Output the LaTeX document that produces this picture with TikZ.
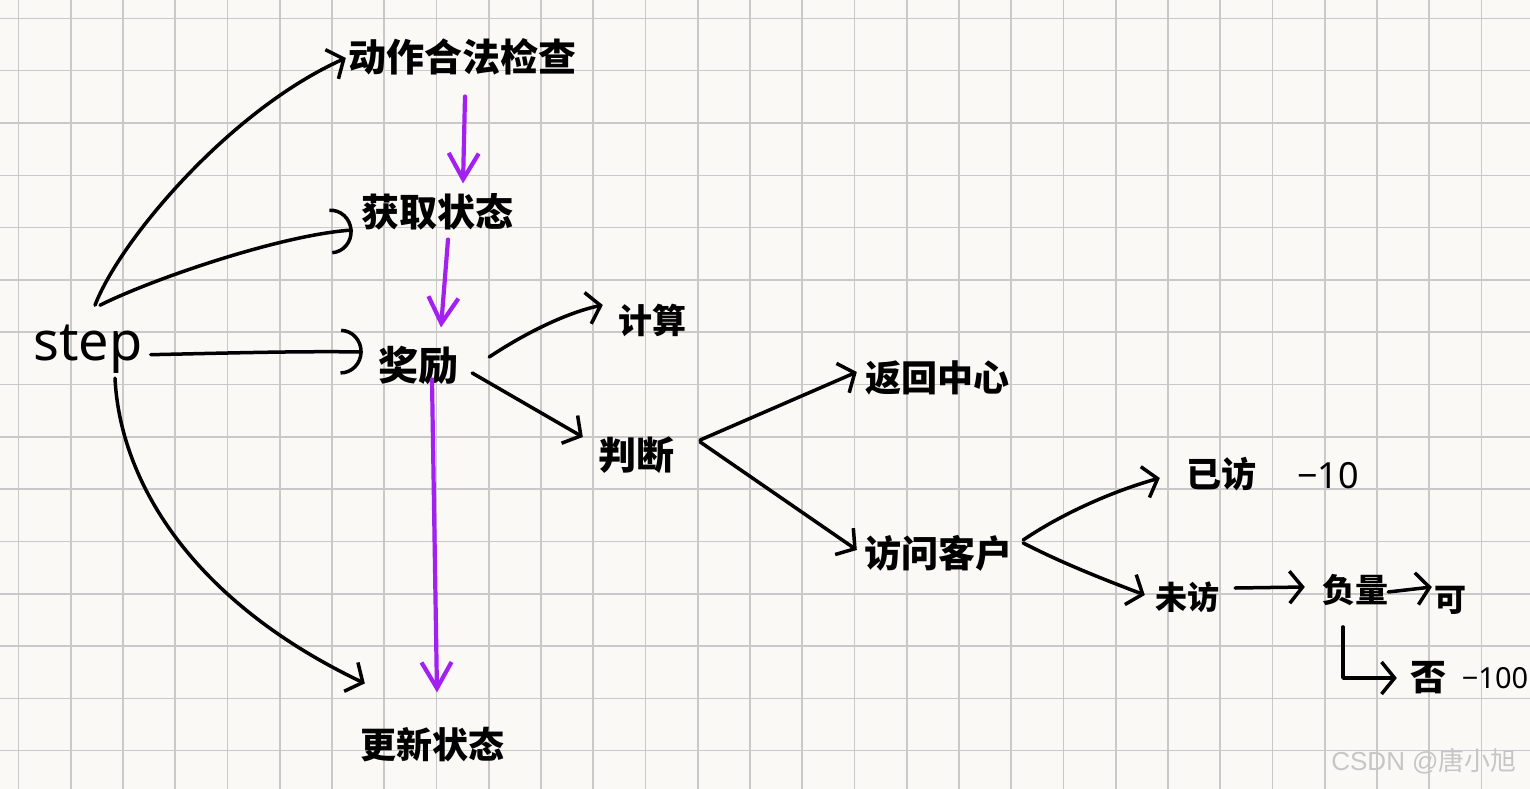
\documentclass[tikz,border=0pt]{standalone}
\usepackage{fontspec}
\setmainfont{Noto Sans}
\newfontfamily\cjk{Noto Sans CJK SC}
\newfontfamily\lat{Liberation Sans}
\usetikzlibrary{arrows.meta}
\definecolor{bgc}{HTML}{FBF9F5}
\definecolor{gridc}{HTML}{C9C9C9}
\definecolor{purp}{RGB}{162,32,240}
\definecolor{wmc}{HTML}{C6C6C6}
\tikzset{
  lbl/.style={inner sep=0pt, font=\cjk\bfseries\fontsize{#1}{#1}\selectfont},
  num/.style={inner sep=0pt, font=\fontsize{#1}{#1}\selectfont},
  hand/.style={draw=black, line width=3.5pt, line cap=round, line join=round,
    -{Straight Barb[length=13pt,width=32pt]}},
  handarc/.style={draw=black, line width=3.5pt, line cap=round, line join=round,
    -{Arc Barb[length=22pt,width=46pt]}},
  purparrow/.style={draw=purp, line width=4.2pt, line cap=round, line join=round,
    -{Straight Barb[length=26pt,width=30pt]}},
}
\begin{document}
\begin{tikzpicture}[x=1pt,y=-1pt]
\useasboundingbox (0,0) rectangle (1530,789);
\fill[bgc] (0,0) rectangle (1530,789);
\foreach \i in {0,...,29} \draw[gridc, line width=1.6pt] (18.5+52.25*\i,0) -- (18.5+52.25*\i,789);
\foreach \j in {0,...,14} \draw[gridc, line width=1.6pt] (0,18.4+52.3*\j) -- (1530,18.4+52.3*\j);

% nodes
\node[num=54, anchor=base] (step) at (88,360) {step};
\node[lbl=38] (dz) at (462,57) {动作合法检查};
\node[lbl=38] (hq) at (437,212) {获取状态};
\node[lbl=40] (jl) at (418,365) {奖励};
\node[lbl=34] (js) at (652,320) {计算};
\node[lbl=38] (pd) at (636,455) {判断};
\node[lbl=36] (fh) at (937,378) {返回中心};
\node[lbl=37] (fw) at (938,553) {访问客户};
\node[lbl=35] (yf) at (1221,474) {已访};
\node[num=36] (m10) at (1328,476) {−10};
\node[lbl=32] (wf) at (1187,597) {未访};
\node[lbl=33] (fl) at (1355,590) {负量};
\node[lbl=32] (ke) at (1450,600) {可};
\node[lbl=36] (fou) at (1428,678) {否};
\node[num=29] (m100) at (1495,678) {−100};
\node[lbl=36] (gx) at (432,745) {更新状态};
\node[inner sep=0pt, text=wmc, font=\fontsize{26}{26}\selectfont] (wm) at (1424,761) {\lat CSDN @\cjk 唐小旭};

% black connectors
\draw[hand] ([xshift=7pt,yshift=19pt]step.north) .. controls (120,240) and (230,110) .. ([xshift=-2pt,yshift=-1pt]dz.west);
\draw[handarc] ([xshift=12pt,yshift=19pt]step.north) .. controls (150,280) and (280,235) .. ([xshift=-8pt,yshift=-18pt]hq.west);
\draw[handarc] ([xshift=8pt,yshift=-6pt]step.east) .. controls (230,353) and (300,351) .. ([xshift=-15pt,yshift=13pt]jl.west);
\draw[hand] ([xshift=27pt,yshift=-5pt]step.south) .. controls (120,480) and (190,600) .. ([xshift=5pt,yshift=44pt]gx.north west);
\draw[hand] ([xshift=31pt,yshift=8pt]jl.east) .. controls (530,330) and (570,312) .. ([xshift=-15pt,yshift=15pt]js.west);
\draw[hand] ([xshift=14pt,yshift=-8pt]jl.east) -- ([xshift=-15pt,yshift=18pt]pd.west);
\draw[hand] ([xshift=26pt,yshift=15pt]pd.east) -- ([xshift=-8pt,yshift=6pt]fh.west);
\draw[hand] ([xshift=26pt,yshift=13pt]pd.east) -- ([xshift=-7pt,yshift=3pt]fw.west);
\draw[hand] ([xshift=11pt,yshift=13pt]fw.east) .. controls (1060,515) and (1110,492) .. ([xshift=-26pt,yshift=-4pt]yf.west);
\draw[hand] ([xshift=11pt,yshift=10pt]fw.east) .. controls (1060,562) and (1100,578) .. ([xshift=-10pt,yshift=2pt]wf.west);
\draw[hand] ([xshift=16pt,yshift=9pt]wf.east) -- ([xshift=-17pt,yshift=3pt]fl.west);
\draw[hand] ([xshift=0pt,yshift=-2pt]fl.east) -- ([xshift=-2pt,yshift=13pt]ke.west);
\draw[hand] ([xshift=-12pt,yshift=-21pt]fl.south) |- ([xshift=-13pt]fou.west);

% purple connectors
\draw[purparrow] ([xshift=3pt,yshift=-21pt]dz.south) -- ([xshift=26pt,yshift=10pt]hq.north);
\draw[purparrow] ([xshift=11pt,yshift=-9pt]hq.south) -- ([xshift=23pt,yshift=18pt]jl.north);
\draw[purparrow] ([xshift=14pt,yshift=5pt]jl.south) -- ([xshift=5pt,yshift=35pt]gx.north);
\end{tikzpicture}
\end{document}
